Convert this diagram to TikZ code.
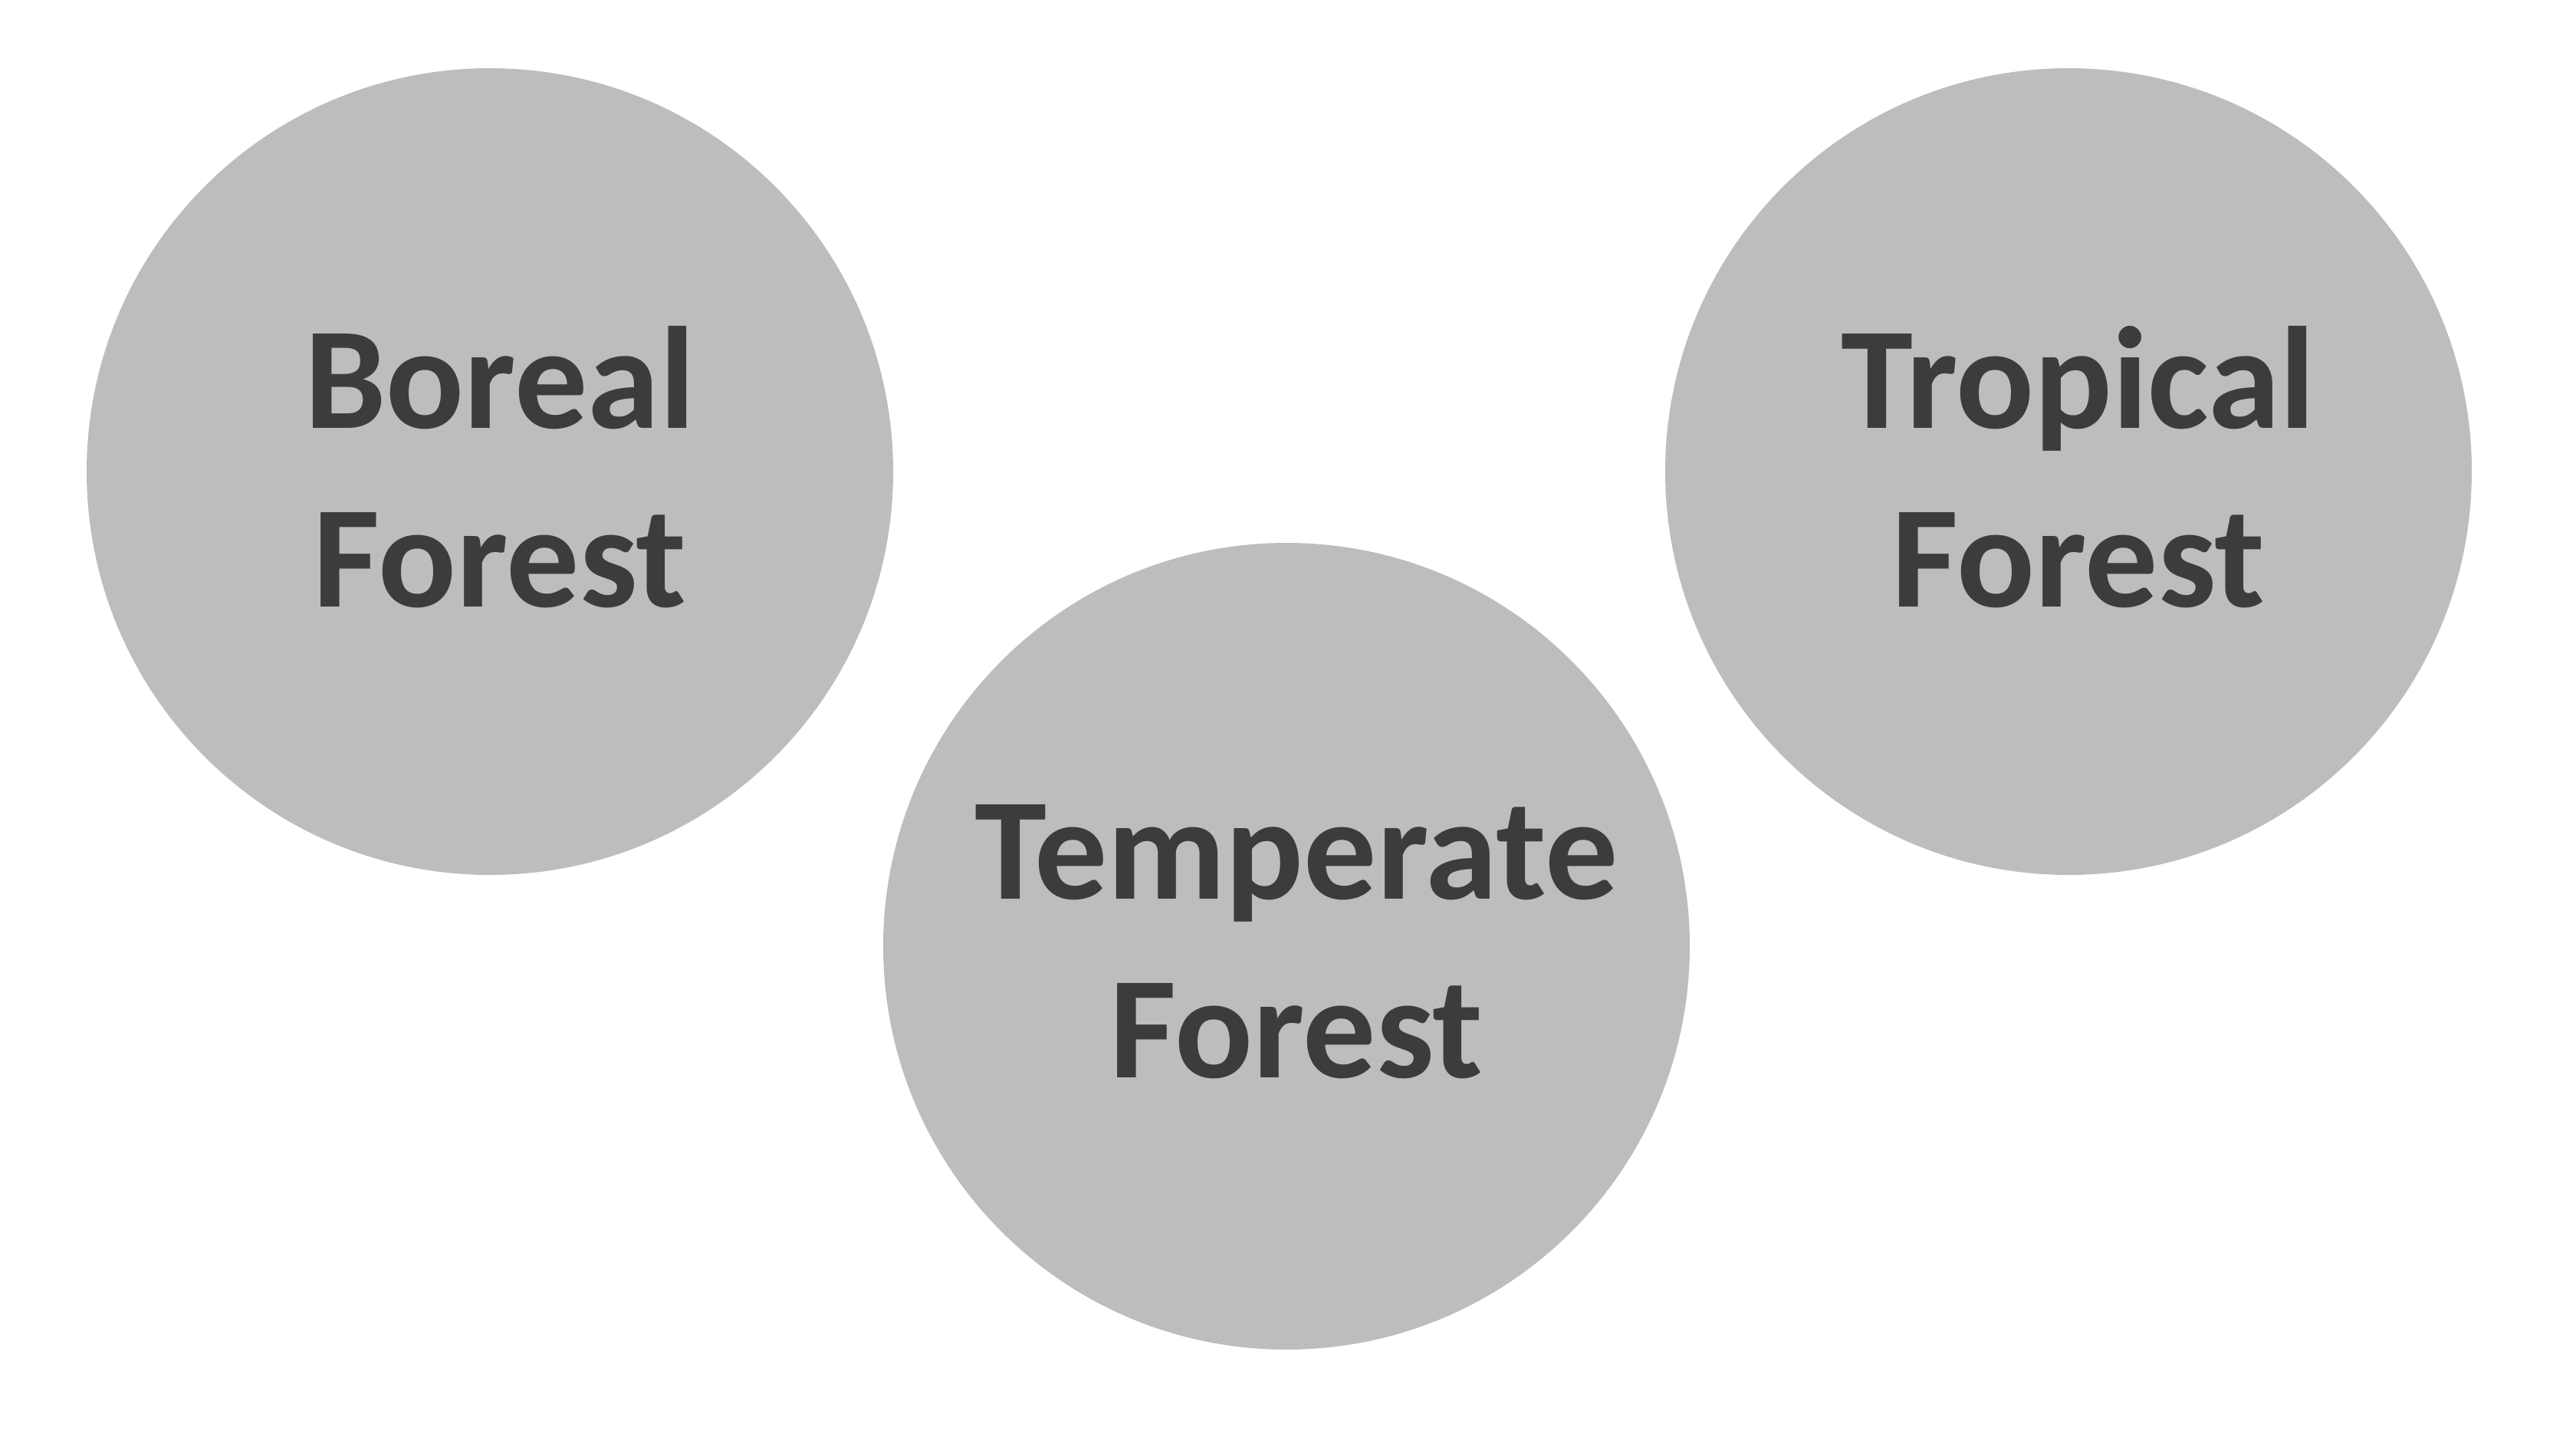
\documentclass[tikz,border=0pt]{standalone}
\usepackage{fontspec}
\setmainfont{Carlito}
\usepackage{tikz}
\usetikzlibrary{positioning}

\definecolor{discgray}{HTML}{BDBDBD}
\definecolor{labelgray}{HTML}{3C3C3C}

\begin{document}
\begin{tikzpicture}[
        disc/.style = {circle, fill=discgray, draw=none, minimum size=10.52cm, inner sep=0pt},
        biome/.style = {align=center, inner sep=0pt, text=labelgray,
                font=\fontsize{54}{66.3}\selectfont\bfseries}]
        \useasboundingbox (0, 0) rectangle (33.6, -18.9);
        \coordinate (boreal pos) at (6.39, -6.15);
        \coordinate (temperate pos) at (16.78, -12.34);
        \coordinate (tropical pos) at (26.98, -6.15);

        \node [disc] (boreal) at (boreal pos) {};
        \node [disc] (temperate) at (temperate pos) {};
        \node [disc] (tropical) at (tropical pos) {};

        \node [biome] (boreal text) at ([xshift=.13cm, yshift=.06cm] boreal.center) {Boreal\\Forest};
        \node [biome] (temperate text) at ([xshift=.13cm, yshift=.06cm] temperate.center) {Temperate\\Forest};
        \node [biome] (tropical text) at ([xshift=.13cm, yshift=.06cm] tropical.center) {Tropical\\Forest};
\end{tikzpicture}
\end{document}
